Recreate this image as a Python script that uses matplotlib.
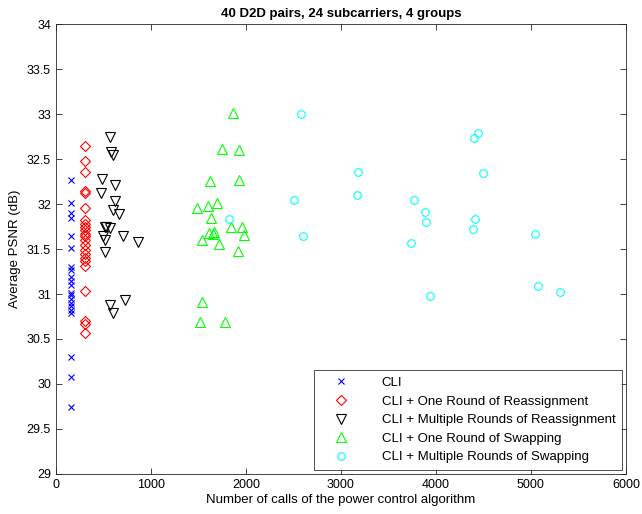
import matplotlib
matplotlib.use("Agg")
import matplotlib.pyplot as plt

plt.rcParams['font.family'] = ['Liberation Sans', 'DejaVu Sans']

# Number of power-control calls and resulting PSNR for each scheme
cli_calls = [157] * 21
cli_psnr = [32.27, 32.01, 31.90, 31.85, 31.64, 31.51, 31.30, 31.27, 31.19, 31.14,
            31.10, 31.01, 30.99, 30.94, 30.90, 30.87, 30.82, 30.79, 30.30, 30.08, 29.74]

reassign1_calls = [303] * 23
reassign1_psnr = [32.64, 32.48, 32.36, 32.14, 32.12, 31.96, 31.82, 31.78, 31.74, 31.71,
                  31.67, 31.64, 31.60, 31.54, 31.49, 31.44, 31.40, 31.37, 31.31, 31.03,
                  30.70, 30.67, 30.57]

reassignN_calls = [570, 585, 598, 488, 622, 478, 618, 606, 668, 520, 570, 702, 866,
                   494, 520, 512, 570, 730, 598, 530]
reassignN_psnr = [32.75, 32.58, 32.55, 32.28, 32.21, 32.12, 32.03, 31.93, 31.89, 31.75,
                  31.73, 31.65, 31.58, 31.64, 31.60, 31.47, 30.88, 30.93, 30.79, 31.74]

swap1_calls = [1487, 1603, 1700, 1630, 1617, 1649, 1540, 1714, 1847, 1957, 1983, 1916,
               1540, 1512, 1777, 1861, 1753, 1930, 1627, 1930, 1660]
swap1_psnr = [31.96, 31.98, 32.01, 31.85, 31.68, 31.67, 31.60, 31.56, 31.74, 31.75,
              31.66, 31.48, 30.91, 30.69, 30.69, 33.01, 32.61, 32.60, 32.26, 32.27, 31.69]

swapN_calls = [2585, 3180, 3166, 2508, 2603, 1819, 4442, 4404, 4498, 4414, 4387, 5045,
               5073, 5303, 3773, 3888, 3899, 3742, 3940]
swapN_psnr = [33.00, 32.36, 32.10, 32.04, 31.64, 31.83, 32.79, 32.73, 32.34, 31.83,
              31.72, 31.67, 31.09, 31.02, 32.04, 31.91, 31.80, 31.57, 30.98]

series_labels = ["CLI",
                 "CLI + One Round of Reassignment",
                 "CLI + Multiple Rounds of Reassignment",
                 "CLI + One Round of Swapping",
                 "CLI + Multiple Rounds of Swapping"]

fig = plt.figure(figsize=(6.42, 5.14), dpi=100)
ax = fig.add_axes([0.087, 0.078, 0.888, 0.875])

lw = 0.8
ax.plot(cli_calls, cli_psnr, linestyle='none', marker='x', color=(0, 0, 1),
        markersize=5, markeredgewidth=lw, label=series_labels[0])
ax.plot(reassign1_calls, reassign1_psnr, linestyle='none', marker='D', color=(1, 0, 0),
        markerfacecolor='none', markersize=5.2, markeredgewidth=lw, label=series_labels[1])
ax.plot(reassignN_calls, reassignN_psnr, linestyle='none', marker='v', color='black',
        markerfacecolor='none', markersize=6.5, markeredgewidth=lw, label=series_labels[2])
ax.plot(swap1_calls, swap1_psnr, linestyle='none', marker='^', color=(0, 1, 0),
        markerfacecolor='none', markersize=6.5, markeredgewidth=lw, label=series_labels[3])
ax.plot(swapN_calls, swapN_psnr, linestyle='none', marker='o', color=(0, 1, 1),
        markerfacecolor='none', markersize=5.5, markeredgewidth=lw, label=series_labels[4])

ax.set_xlim(0, 6000)
ax.set_ylim(29, 34)
ax.set_xticks([0, 1000, 2000, 3000, 4000, 5000, 6000])
ax.set_yticks([29, 29.5, 30, 30.5, 31, 31.5, 32, 32.5, 33, 33.5, 34])
ax.set_yticklabels(['29', '29.5', '30', '30.5', '31', '31.5', '32', '32.5', '33', '33.5', '34'])
ax.tick_params(direction='in', top=True, right=True, length=4, width=0.6,
               labelsize=9, colors='#262626', labelcolor='black')
for s in ax.spines.values():
    s.set_linewidth(0.6)
    s.set_color('#262626')

ax.set_title("40 D2D pairs, 24 subcarriers, 4 groups", fontsize=9.5, fontweight='bold', pad=5)
ax.set_xlabel("Number of calls of the power control algorithm", fontsize=9.5, labelpad=2)
ax.set_ylabel("Average PSNR (dB)", fontsize=9.5, labelpad=4)

leg = ax.legend(loc='lower right', fontsize=9.5, frameon=True, fancybox=False,
                edgecolor='black', borderaxespad=0.3, handlelength=3.0,
                handletextpad=1.6, labelspacing=0.48, borderpad=0.5)
leg.get_frame().set_linewidth(0.6)

fig.savefig("out.png", dpi=100)
